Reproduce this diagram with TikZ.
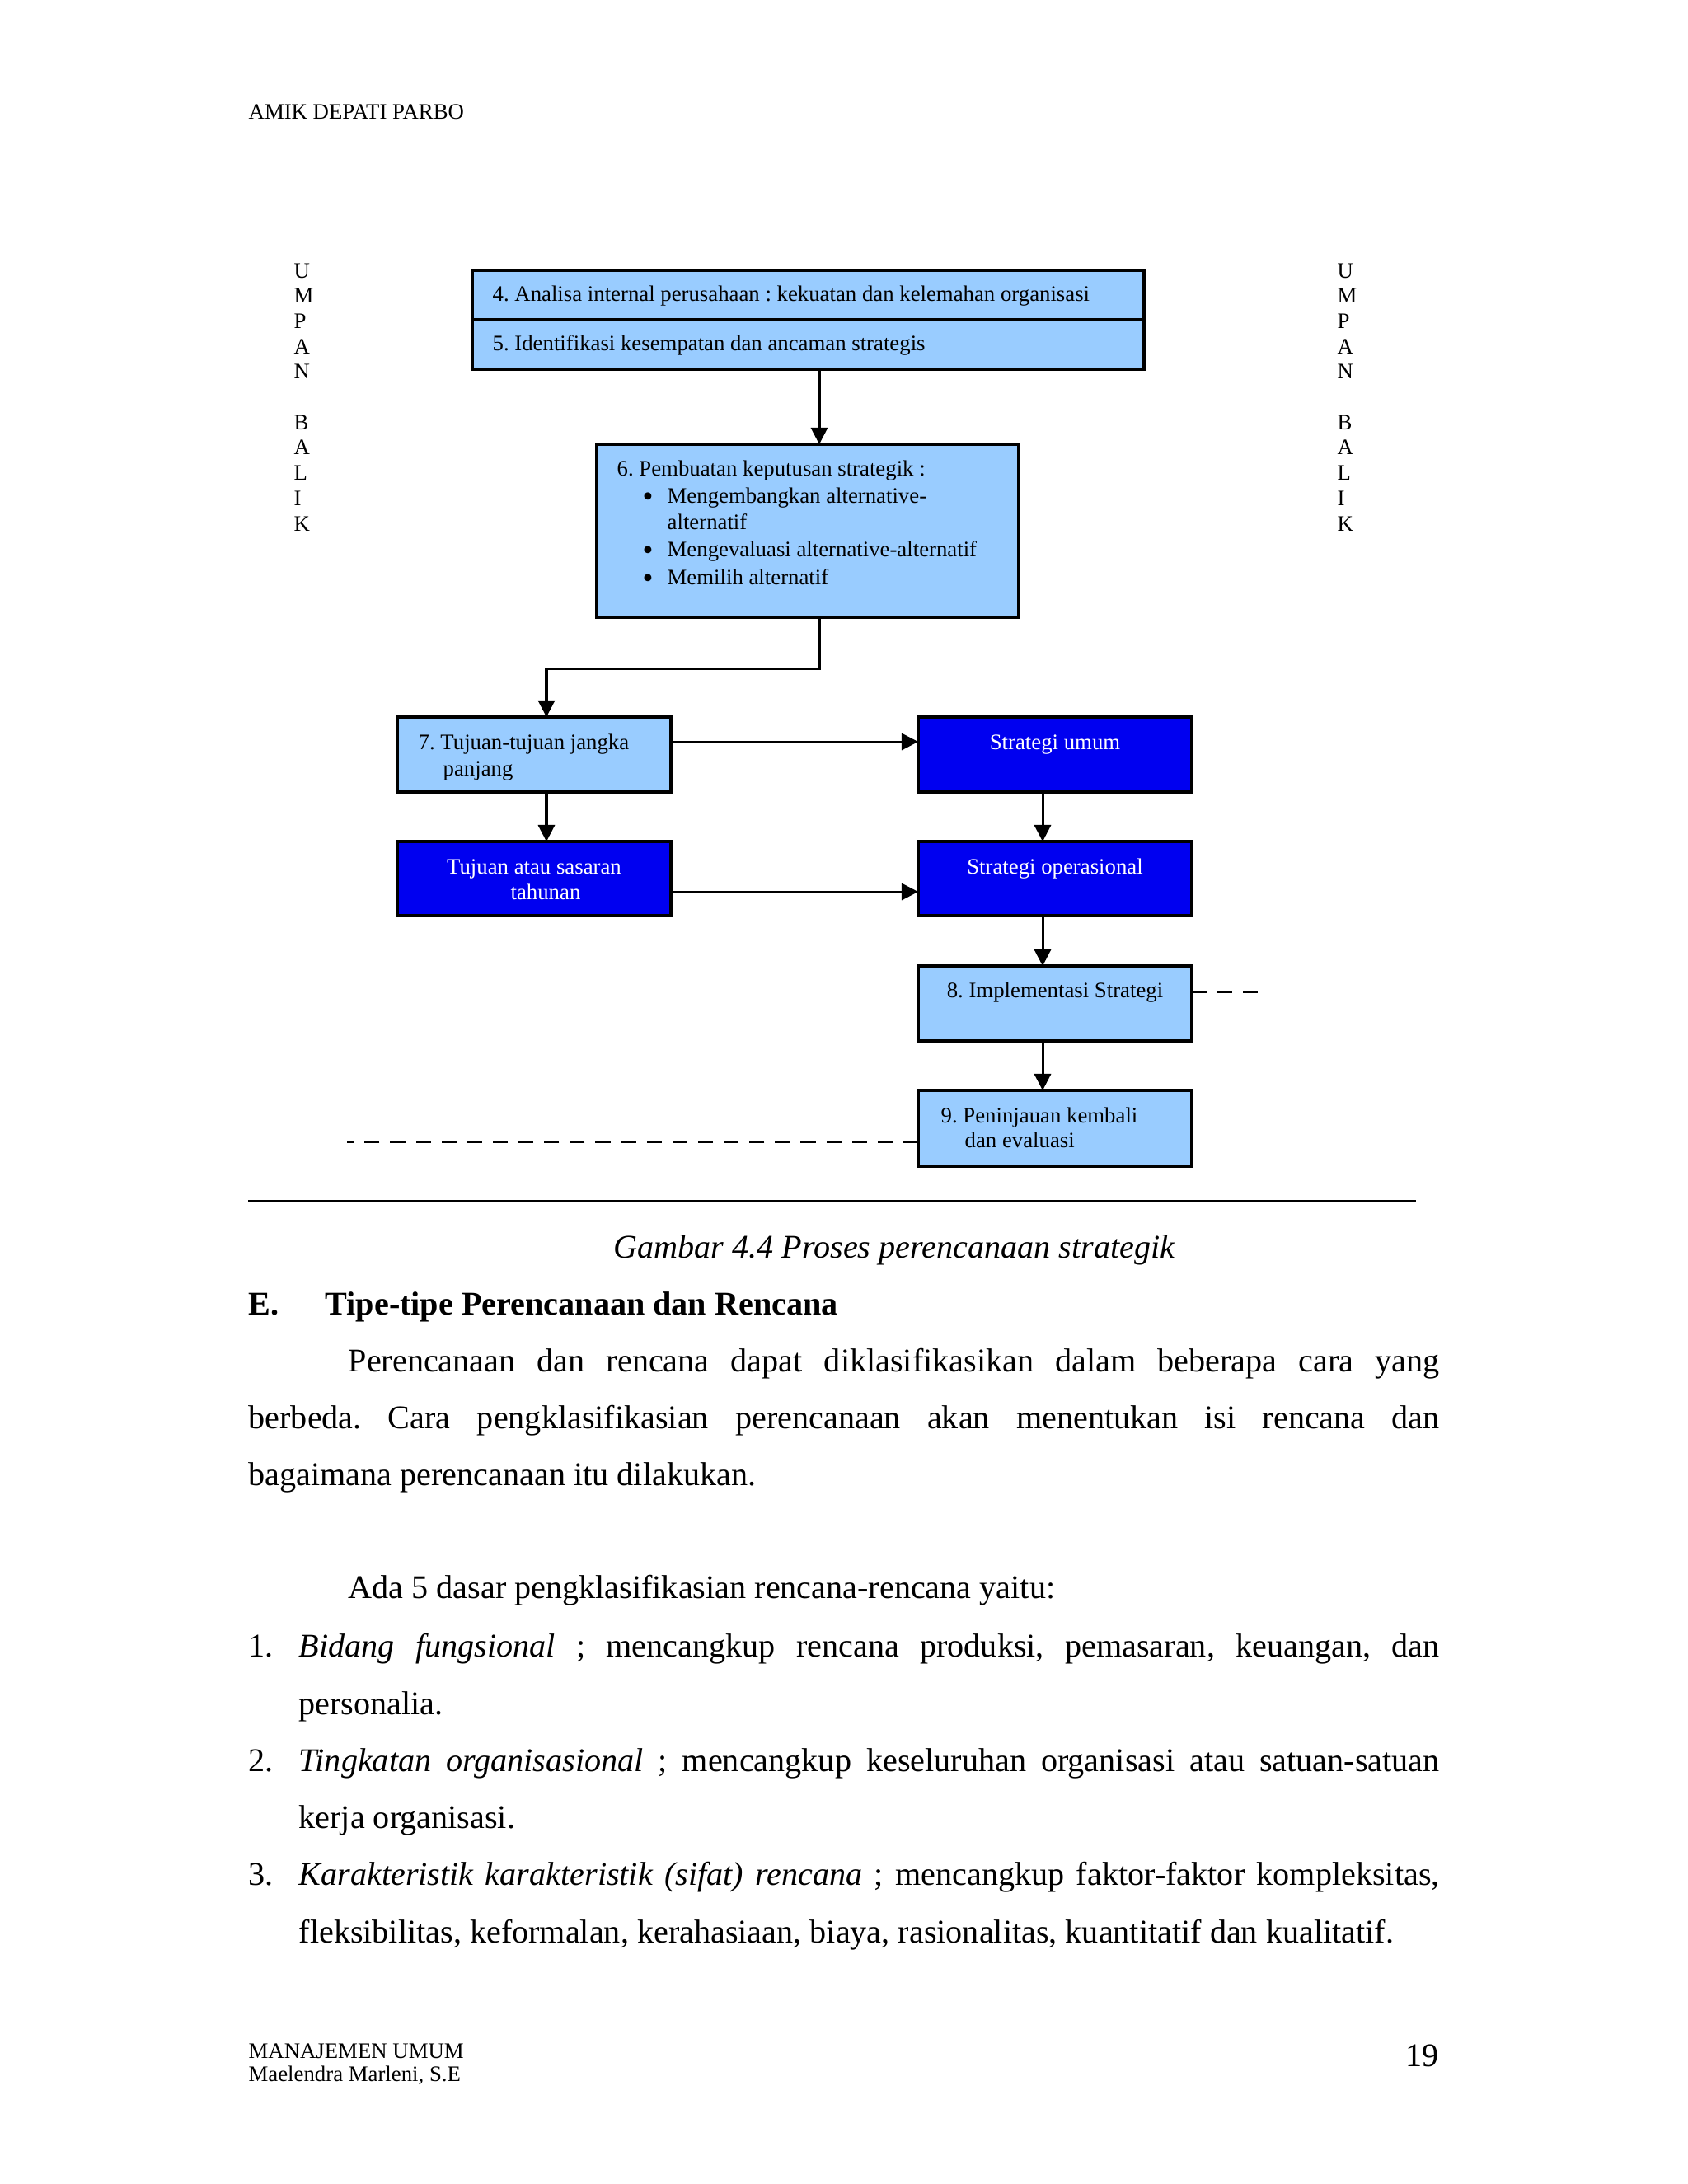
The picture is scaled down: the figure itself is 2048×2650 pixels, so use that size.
\documentclass[tikz,border=0pt]{standalone}
\usepackage{fontspec}
\setmainfont{Liberation Serif}
\usetikzlibrary{arrows.meta}
\frenchspacing
\newdimen\pxu \pxu=0.2988pt
\definecolor{lblue}{HTML}{99CCFF}
\definecolor{dblue}{HTML}{0000F0}
\newcommand{\sm}{\fontsize{8}{9.2}\selectfont}
\newcommand{\bd}{\fontsize{12}{14}\selectfont}
\newcommand{\bul}{\raisebox{-1.2pt}{\fontsize{11}{11}\selectfont •}}
\tikzset{
  sz/.style 2 args={minimum width=#1*0.2988pt, minimum height=#2*0.2988pt},
  lbox/.style={draw=black, line width=1pt, fill=lblue, anchor=north west, inner sep=0pt, outer sep=0pt},
  dbox/.style={lbox, fill=dblue},
  tx/.style={anchor=base west, inner sep=0pt, font=\sm},
  txc/.style={anchor=base, inner sep=0pt, font=\sm},
  wtx/.style={txc, text=white},
  bt/.style={anchor=base west, inner sep=0pt, font=\bd},
  arr/.style={line width=0.9pt, -{Triangle[length=6pt,width=6pt]}},
  dsh/.style={line width=0.9pt, dash pattern=on 5.4pt off 3.9pt},
}
\begin{document}
\begin{tikzpicture}[x=0.2988pt, y=-0.2988pt]
\fill[white] (0,0) rectangle (2048,2650);
\useasboundingbox (0,0) rectangle (2048,2650);

% header
\node[tx] (hdr) at (301,144) {AMIK DEPATI PARBO};

% UMPAN BALIK columns
\foreach \ch [count=\i from 0] in {U,M,P,A,N,,B,A,L,I,K} {
  \node[tx] (lu\i) at (356,337+30.7*\i) {\ch};
  \node[tx] (ru\i) at (1622,337+30.7*\i) {\ch};
}

% boxes
\node[lbox, sz={815}{60}] (b4) at (573,328) {};
\node[lbox, sz={815}{60}] (b5) at (573,388) {};
\node[lbox, sz={512}{210}] (b6) at (724,539) {};
\node[lbox, sz={332}{91}] (b7) at (482,870) {};
\node[dbox, sz={332}{90}] (bt) at (482,1021) {};
\node[dbox, sz={332}{91}] (bs) at (1114,870) {};
\node[dbox, sz={332}{90}] (bo) at (1114,1021) {};
\node[lbox, sz={332}{91}] (b8) at (1114,1172) {};
\node[lbox, sz={332}{92}] (b9) at (1114,1323) {};

% box texts
\node[tx] (t4) at (597,365) {4. Analisa internal perusahaan : kekuatan dan kelemahan organisasi};
\node[tx] (t5) at (597,425) {5. Identifikasi kesempatan dan ancaman strategis};
\node[tx] (t6a) at (748,577) {6. Pembuatan keputusan strategik :};
\node[tx] (u1) at (779,610) {\bul};
\node[tx] (t6b) at (809,610) {Mengembangkan alternative-};
\node[tx] (t6c) at (809,642) {alternatif};
\node[tx] (u2) at (779,675) {\bul};
\node[tx] (t6d) at (809,675) {Mengevaluasi alternative-alternatif};
\node[tx] (u3) at (779,709) {\bul};
\node[tx] (t6e) at (809,709) {Memilih alternatif};
\node[tx] (t7a) at (507,909) {7. Tujuan-tujuan jangka};
\node[tx] (t7b) at (537,941) {panjang};
\node[wtx] (tsu) at (1280,909) {Strategi umum};
\node[wtx] (tta) at (648,1060) {Tujuan atau sasaran};
\node[wtx] (ttb) at (662,1091) {tahunan};
\node[wtx] (tso) at (1280,1060) {Strategi operasional};
\node[txc] (t8) at (1280,1210) {8. Implementasi Strategi};
\node[tx] (t9a) at (1141,1362) {9. Peninjauan kembali};
\node[tx] (t9b) at (1170,1392) {dan evaluasi};

% helper coordinates
\coordinate (cM) at (994,0);
\coordinate (k1) at (994,811);
\coordinate (cL) at (663,0);
\coordinate (cR) at (1265,0);
\coordinate (r1) at (0,900);
\coordinate (r2) at (0,1082);
\coordinate (d1) at (1528,1203);
\coordinate (d2) at (421,1385);

% connectors
\draw[arr] (b5.south -| cM) -- (b6.north -| cM);
\draw[arr] (b6.south -| k1) -- (k1) -| (b7.north -| cL);
\draw[arr] (b7.south -| cL) -- (bt.north -| cL);
\draw[arr] (b7.east |- r1) -- (bs.west |- r1);
\draw[arr] (bt.east |- r2) -- (bo.west |- r2);
\draw[arr] (bs.south -| cR) -- (bo.north -| cR);
\draw[arr] (bo.south -| cR) -- (b8.north -| cR);
\draw[arr] (b8.south -| cR) -- (b9.north -| cR);
\draw[dsh] (b8.east |- d1) -- (d1);
\draw[dsh] (b9.west |- d2) -- (d2);

% rule
\coordinate (hl1) at (301,1457);
\coordinate (hl2) at (1718,1457);
\draw[line width=0.9pt] (hl1) -- (hl2);

% caption and body
\node[anchor=base, inner sep=0pt, font=\bd\itshape] (cap) at (1085,1526) {Gambar 4.4 Proses perencanaan strategik};
\node[bt, font=\bd\bfseries] (hE) at (301,1595) {E.};
\node[bt, font=\bd\bfseries] (hT) at (394,1595) {Tipe-tipe Perencanaan dan Rencana};
\node[bt] (p1) at (422,1664) {\makebox[1324\pxu][s]{Perencanaan dan rencana dapat diklasifikasikan dalam beberapa cara yang}};
\node[bt] (p2) at (301,1733) {\makebox[1445\pxu][s]{berbeda. Cara pengklasifikasian perencanaan akan menentukan isi rencana dan}};
\node[bt] (p3) at (301,1802) {bagaimana perencanaan itu dilakukan.};
\node[bt] (ada) at (422,1939) {Ada 5 dasar pengklasifikasian rencana-rencana yaitu:};
\node[bt] (n1) at (301,2010) {1.};
\node[bt] (i1a) at (362,2010) {\makebox[1384\pxu][s]{\textit{Bidang fungsional} ; mencangkup rencana produksi, pemasaran, keuangan, dan}};
\node[bt] (i1b) at (362,2080) {personalia.};
\node[bt] (n2) at (301,2149) {2.};
\node[bt] (i2a) at (362,2149) {\makebox[1384\pxu][s]{\textit{Tingkatan organisasional} ; mencangkup keseluruhan organisasi atau satuan-satuan}};
\node[bt] (i2b) at (362,2218) {kerja organisasi.};
\node[bt] (n3) at (301,2287) {3.};
\node[bt] (i3a) at (362,2287) {\makebox[1384\pxu][s]{\textit{Karakteristik karakteristik (sifat) rencana} ; mencangkup faktor-faktor kompleksitas,}};
\node[bt] (i3b) at (362,2357) {fleksibilitas, keformalan, kerahasiaan, biaya, rasionalitas, kuantitatif dan kualitatif.};

% footer
\node[tx] (f1) at (301,2497) {MANAJEMEN UMUM};
\node[tx] (f2) at (301,2525) {Maelendra Marleni, S.E};
\node[anchor=base east, inner sep=0pt, font=\bd] (pg) at (1746,2507) {19};
\end{tikzpicture}
\end{document}
